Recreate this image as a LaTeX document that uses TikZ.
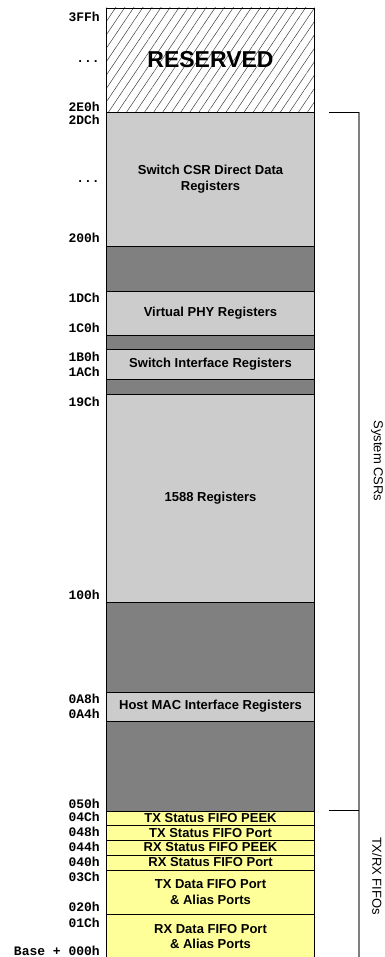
\documentclass[tikz,border=0pt]{standalone}
\usepackage{fontspec}
\setmainfont{Liberation Sans}
\setsansfont{Liberation Sans}
\setmonofont{Liberation Mono}
\usepackage{tikz}
\usetikzlibrary{positioning,patterns.meta}
\definecolor{cL}{HTML}{CCCCCC}
\definecolor{cD}{HTML}{808080}
\definecolor{cY}{HTML}{FFFF99}
\definecolor{cG}{HTML}{7F7F7F}
\tikzset{
  reg/.style={draw=black,line width=0.8pt,minimum width=208pt,inner sep=0pt,
              outer sep=0pt,align=center,font=\fontsize{13}{15.5}\selectfont\bfseries},
  lite/.style={reg,fill=cL},
  dark/.style={reg,fill=cD},
  fifo/.style={reg,fill=cY},
  rsvd/.style={reg,pattern={Lines[angle=56,distance=7.5pt,line width=0.5pt]},
              pattern color=black!75},
  addr/.style={anchor=east,inner sep=0pt,font=\fontsize{13}{13}\selectfont\ttfamily\bfseries},
  side/.style={rotate=-90,inner sep=0pt,font=\fontsize{13}{13}\selectfont},
  brk/.style={black,line width=0.6pt},
  rail/.style={cG,line width=1.2pt},
}

\begin{document}
\begin{tikzpicture}[x=1pt,y=-1pt]
  \useasboundingbox (0,0) rectangle (384,957);
  \node[rsvd,minimum height=104pt,anchor=north](res) at (210.5,8){};
  \node[font=\fontsize{23}{23}\selectfont\bfseries](restxt) at (res.center){RESERVED};
  \node[lite,minimum height=134pt,below=0pt of res](csr){Switch CSR Direct Data\\Registers};
  \node[dark,minimum height=45pt,below=0pt of csr](gap1){};
  \node[lite,minimum height=44pt,below=0pt of gap1](vphy){Virtual PHY Registers};
  \node[dark,minimum height=14pt,below=0pt of vphy](gap2){};
  \node[lite,minimum height=30pt,below=0pt of gap2](swif){Switch Interface Registers};
  \node[dark,minimum height=15pt,below=0pt of swif](gap3){};
  \node[lite,minimum height=208pt,below=0pt of gap3](ptp){1588 Registers};
  \node[dark,minimum height=90pt,below=0pt of ptp](gap4){};
  \node[lite,minimum height=29pt,below=0pt of gap4](hmac){Host MAC Interface Registers};
  \node[dark,minimum height=90pt,below=0pt of hmac](gap5){};
  \node[fifo,minimum height=14.5pt,below=0pt of gap5](txpk){TX Status FIFO PEEK};
  \node[fifo,minimum height=14.5pt,below=0pt of txpk](txpt){TX Status FIFO Port};
  \node[fifo,minimum height=15pt,below=0pt of txpt](rxpk){RX Status FIFO PEEK};
  \node[fifo,minimum height=15pt,below=0pt of rxpk](rxpt){RX Status FIFO Port};
  \node[fifo,minimum height=44.5pt,below=0pt of rxpt](txd){TX Data FIFO Port\\\& Alias Ports};
  \node[fifo,minimum height=44pt,below=0pt of txd](rxd){RX Data FIFO Port\\\& Alias Ports};

  \foreach \t/\y [count=\i] in {3FFh/16.7,.{}.{}./61.7,2E0h/106.7,2DCh/120,
      .{}.{}./181.7,200h/238,1DCh/298,1C0h/328,1B0h/357,1ACh/372,19Ch/401.7,
      100h/595,0A8h/699,0A4h/714,050h/804,04Ch/817,048h/832,044h/847,040h/862,
      03Ch/877,020h/907,01Ch/922.7,Base + 000h/950.5}
    \node[addr](lbl\i) at (100,\y){\t};

  \coordinate (csrtop) at (329,112);
  \coordinate (csrcnr) at (359,112);
  \coordinate (fifotop) at (329,810.5);
  \coordinate (fifocnr) at (359,810.5);
  \coordinate (railend) at (359,960);
  \draw[rail] (csrcnr)--(railend);
  \draw[brk] (csrtop)--(csrcnr);
  \draw[brk] (fifotop)--(fifocnr);
  \node[side](csrlbl) at (377,461){System CSRs};
  \node[side](fifolbl) at (377,876){TX/RX FIFOs};
\end{tikzpicture}
\end{document}
